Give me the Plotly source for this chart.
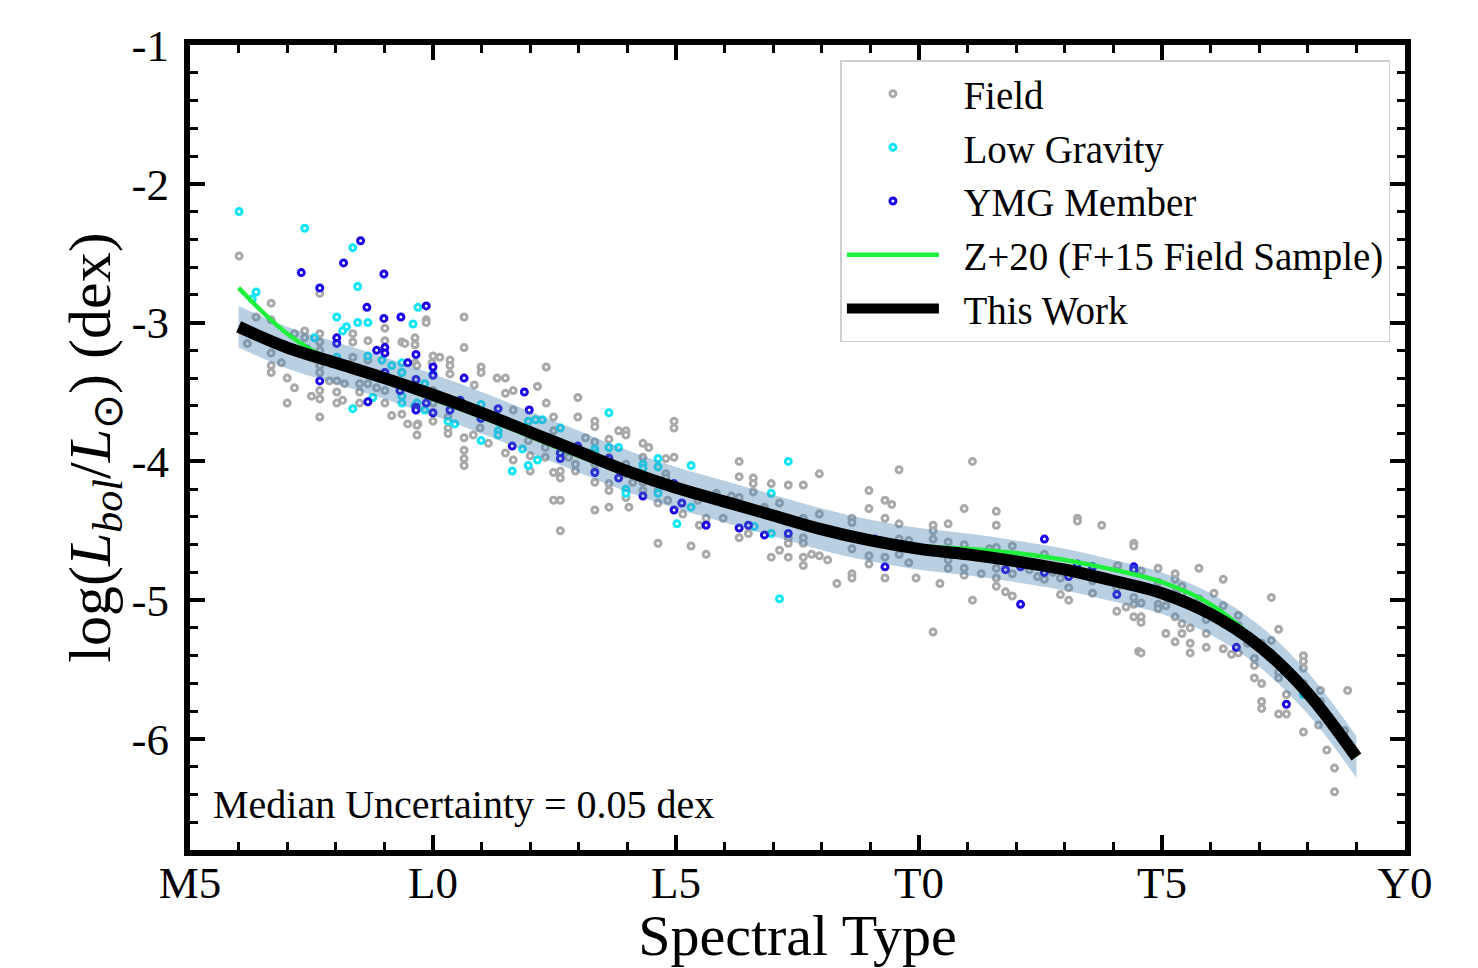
"""
Bolometric luminosity vs spectral type for ultracool dwarfs, with the polynomial fits
"""

import plotly.graph_objects as go


# spectral type is numeric: M5 = 5, L0 = 10, L5 = 15, T0 = 20, T5 = 25, Y0 = 30
spt_ticks = [5, 10, 15, 20, 25, 30]
spt_labels = ['M5', 'L0', 'L5', 'T0', 'T5', 'Y0']
lbol_ticks = [-1, -2, -3, -4, -5, -6]
lbol_labels = ['-1', '-2', '-3', '-4', '-5', '-6']

# field objects
field_spt = [
    6.01, 6.67, 6.36, 6.67, 6.18, 6.67, 6.67, 6.67, 6.88, 7.00,
    7.15, 7.00, 7.15, 7.36, 7.36, 7.67, 7.67, 7.67, 7.67, 7.67,
    7.67, 7.67, 7.67, 7.67, 7.50, 7.87, 8.02, 8.02, 8.02, 8.14,
    8.18, 8.35, 8.35, 8.35, 8.49, 8.49, 8.49, 8.66, 8.66, 8.66,
    8.84, 9.01, 9.01, 9.01, 9.01, 9.01, 9.15, 9.36, 9.42, 9.63,
    9.63, 9.63, 9.86, 10.0, 10.14, 9.69, 9.48, 10.0, 10.0, 10.0,
    9.36, 9.67, 9.36, 9.67, 9.67, 9.98, 10.35, 10.35, 10.35, 10.64,
    10.99, 10.99, 10.85, 11.32, 11.49, 11.49, 11.65, 12.15, 12.33, 12.33,
    12.48, 10.64, 10.64, 10.64, 10.64, 10.83, 11.49, 11.65, 12.0, 12.0,
    12.48, 12.62, 11.14, 11.65, 11.96, 10.31, 10.31, 10.31, 10.97, 10.97,
    11.32, 11.96, 12.31, 12.31, 12.48, 10.64, 9.86, 12.98, 12.98, 13.33,
    13.33, 13.62, 13.97, 13.97, 13.33, 13.20, 13.62, 13.33, 13.33, 13.33,
    13.62, 13.62, 12.93, 12.93, 12.79, 13.14, 13.97, 13.97, 14.11, 13.97,
    13.97, 14.32, 14.44, 14.32, 14.32, 14.32, 14.52, 14.63, 14.79, 14.79,
    14.96, 14.96, 14.96, 14.83, 13.62, 13.33, 14.03, 12.48, 12.62, 14.63,
    12.62, 13.82, 15.31, 12.62, 14.79, 14.79, 15.45, 15.62, 15.48, 15.83,
    15.14, 16.30, 16.30, 17.95, 16.59, 16.59, 16.59, 16.96, 17.31, 17.62,
    18.97, 18.97, 19.30, 19.44, 19.30, 15.62, 15.81, 15.97, 16.14, 16.30,
    15.97, 16.30, 16.61, 16.82, 16.82, 17.13, 17.31, 17.62, 17.62, 17.95,
    17.95, 17.31, 17.31, 17.62, 17.62, 17.62, 17.62, 17.13, 16.96, 17.31,
    17.79, 17.95, 18.12, 18.31, 18.62, 18.62, 18.62, 18.62, 18.62, 18.97,
    18.97, 19.30, 16.30, 16.49, 14.63, 14.32, 19.59, 21.10, 19.59, 20.93,
    21.59, 21.59, 23.26, 23.26, 23.76, 20.29, 20.29, 20.29, 20.60, 19.59,
    19.79, 19.59, 19.30, 19.79, 20.60, 20.93, 21.45, 21.59, 21.92, 20.60,
    20.60, 20.93, 20.93, 21.28, 21.59, 21.59, 21.59, 21.92, 22.27, 22.44,
    22.58, 22.75, 22.58, 22.91, 23.08, 23.57, 23.57, 24.07, 24.07, 24.42,
    24.42, 24.42, 24.42, 24.07, 24.26, 22.91, 23.08, 21.78, 21.92, 21.10,
    20.43, 19.94, 20.29, 24.52, 24.57, 24.92, 25.27, 25.27, 25.76, 26.26,
    25.41, 24.92, 24.09, 24.42, 24.57, 24.57, 24.57, 24.57, 24.92, 24.92,
    25.08, 25.27, 25.41, 25.27, 25.41, 25.58, 25.41, 25.08, 25.27, 25.58,
    25.58, 25.76, 25.76, 25.91, 26.07, 26.26, 26.26, 25.91, 25.91, 26.26,
    26.43, 26.57, 26.57, 26.57, 26.76, 26.90, 27.05, 26.90, 26.90, 26.90,
    27.05, 27.25, 27.25, 27.40, 27.25, 27.40, 27.40, 27.05, 27.05, 27.40,
    27.56, 27.56, 27.75, 27.91, 27.91, 27.91, 27.91, 27.91, 28.26, 28.26,
    28.22, 28.39, 28.55, 28.55, 28.76, 27.40, 28.82,
]
field_lbol = [
    -2.52, -2.86, -2.96, -2.98, -3.15, -3.22, -3.31, -3.36, -3.29, -3.40,
    -3.47, -3.58, -3.08, -3.06, -3.11, -3.08, -3.14, -3.20, -2.79, -3.31,
    -3.36, -3.49, -3.55, -3.68, -3.53, -3.42, -3.42, -3.50, -3.58, -3.56,
    -3.44, -3.08, -3.14, -3.25, -3.44, -3.50, -3.58, -3.13, -3.27, -3.44,
    -3.47, -3.04, -3.13, -3.40, -3.49, -3.58, -3.67, -3.14, -3.15, -3.11,
    -3.16, -3.29, -2.98, -3.24, -3.25, -3.73, -3.73, -3.49, -3.58, -3.71,
    -3.36, -3.31, -3.66, -3.74, -3.81, -3.29, -3.27, -3.31, -3.37, -3.18,
    -3.32, -3.36, -3.45, -3.40, -3.40, -3.51, -3.49, -3.46, -3.32, -3.58,
    -3.68, -3.83, -3.92, -3.98, -4.03, -3.81, -3.94, -3.99, -4.07, -3.96,
    -4.08, -4.12, -3.87, -3.63, -3.76, -3.68, -3.76, -3.80, -3.76, -3.69,
    -3.68, -3.85, -3.90, -3.97, -3.78, -2.96, -3.00, -3.54, -3.68, -3.71,
    -3.75, -3.84, -3.78, -3.81, -3.86, -3.94, -3.97, -4.02, -4.07, -4.15,
    -4.16, -4.21, -4.02, -4.07, -3.97, -3.83, -4.02, -4.09, -4.15, -4.21,
    -4.26, -3.87, -3.90, -3.97, -4.15, -4.09, -4.15, -4.21, -4.09, -4.16,
    -3.71, -3.76, -3.97, -4.28, -4.33, -4.35, -4.33, -4.28, -4.50, -4.59,
    -4.07, -3.78, -4.61, -4.28, -3.98, -4.12, -4.28, -4.41, -4.46, -4.23,
    -4.38, -4.00, -4.11, -4.09, -4.12, -4.16, -4.22, -4.16, -4.17, -4.17,
    -4.21, -4.34, -4.28, -4.31, -4.41, -4.67, -4.24, -4.28, -4.25, -4.26,
    -4.41, -4.33, -4.36, -4.33, -4.38, -4.30, -4.41, -4.41, -4.45, -4.38,
    -4.48, -4.55, -4.59, -4.55, -4.59, -4.69, -4.75, -4.64, -4.69, -4.69,
    -4.67, -4.68, -4.71, -4.88, -4.41, -4.44, -4.63, -4.81, -4.84, -4.68,
    -4.74, -4.84, -4.55, -4.52, -4.30, -4.21, -4.06, -4.00, -4.45, -4.34,
    -4.36, -4.46, -4.41, -4.43, -4.46, -4.46, -4.50, -4.56, -4.45, -4.56,
    -4.57, -4.67, -4.69, -4.73, -4.58, -4.60, -4.63, -4.62, -4.61, -4.71,
    -4.77, -4.77, -4.82, -4.81, -4.77, -4.84, -4.90, -4.81, -4.78, -4.83,
    -4.85, -4.80, -4.67, -4.84, -4.91, -4.86, -4.95, -4.77, -4.91, -4.59,
    -4.61, -4.98, -5.12, -5.08, -5.05, -4.96, -5.00, -4.94, -4.97, -5.00,
    -4.88, -4.84, -5.23, -5.37, -4.79, -4.77, -4.81, -4.85, -4.77, -4.85,
    -4.90, -4.87, -4.75, -5.03, -5.12, -5.16, -5.02, -5.38, -5.03, -5.06,
    -5.04, -4.95, -4.95, -5.12, -5.17, -5.20, -5.24, -5.24, -5.30, -5.31,
    -5.38, -4.99, -5.05, -5.14, -4.95, -5.04, -5.17, -5.24, -5.34, -5.35,
    -5.39, -5.11, -5.18, -5.38, -5.31, -5.31, -5.31, -5.42, -5.47, -5.56,
    -5.60, -5.29, -5.38, -5.44, -4.98, -5.21, -5.52, -5.73, -5.78, -5.82,
    -5.82, -5.68, -5.56, -5.40, -5.44, -5.49, -5.60, -5.95, -5.65, -5.73,
    -5.90, -6.08, -6.21, -6.38, -5.94, -5.56, -5.65,
]

# low gravity objects
lowg_spt = [
    6.01, 7.36, 8.35, 8.45, 6.36, 6.28, 8.02, 8.22, 8.14, 8.45,
    8.66, 7.56, 8.02, 8.66, 8.95, 9.15, 9.36, 9.36, 9.69, 9.59,
    8.35, 8.76, 9.36, 9.36, 9.63, 9.83, 10.0, 9.83, 9.67, 10.31,
    10.45, 10.99, 10.99, 11.34, 11.34, 11.63, 11.84, 11.96, 12.11, 12.25,
    12.62, 11.96, 12.15, 13.62, 13.62, 13.82, 13.33, 13.33, 13.97, 13.97,
    14.32, 14.32, 14.63, 14.63, 14.63, 15.02, 15.31, 15.31, 17.31, 16.96,
    16.61, 16.96, 17.13, 27.91,
]
lowg_lbol = [
    -2.20, -2.32, -2.46, -2.74, -2.78, -2.83, -2.96, -3.03, -3.06, -3.00,
    -3.00, -3.11, -3.25, -3.24, -3.27, -3.31, -3.29, -3.36, -2.89, -3.01,
    -3.62, -3.54, -3.53, -3.58, -3.60, -3.44, -3.37, -3.63, -3.58, -3.71,
    -3.73, -3.59, -3.85, -3.78, -3.81, -4.07, -3.91, -3.71, -3.70, -3.70,
    -3.76, -4.03, -3.99, -3.65, -3.90, -3.90, -3.91, -3.94, -4.20, -4.23,
    -4.02, -4.05, -3.98, -4.04, -4.23, -4.45, -4.03, -4.33, -4.00, -4.23,
    -4.47, -4.52, -4.99, -5.68,
]

# young moving group members
ymg_spt = [
    8.51, 8.16, 7.29, 8.99, 7.67, 8.64, 8.99, 9.34, 9.86, 8.02,
    8.02, 9.01, 9.01, 8.84, 9.48, 9.65, 10.0, 10.0, 9.65, 9.01,
    7.67, 7.40, 8.66, 9.65, 9.65, 9.86, 10.0, 9.32, 10.64, 10.35,
    10.56, 10.99, 11.34, 11.88, 11.98, 11.63, 12.62, 12.62, 12.98, 13.62,
    13.33, 13.82, 14.32, 14.96, 15.12, 14.96, 15.31, 15.62, 15.62, 16.30,
    16.49, 16.82, 17.31, 19.09, 19.30, 22.58, 21.78, 22.09, 22.58, 23.08,
    23.26, 23.57, 24.07, 22.09, 24.42, 24.42, 26.53, 27.56,
]
ymg_lbol = [
    -2.41, -2.57, -2.64, -2.65, -2.75, -2.89, -2.97, -2.96, -2.88, -3.11,
    -3.15, -3.18, -3.22, -3.20, -3.29, -3.23, -3.32, -3.38, -3.41, -3.36,
    -3.42, -3.19, -3.57, -3.61, -3.63, -3.58, -3.65, -3.49, -3.40, -3.63,
    -3.56, -3.69, -3.62, -3.50, -3.63, -3.89, -3.94, -3.98, -3.89, -3.98,
    -4.08, -4.12, -4.25, -4.16, -4.30, -4.35, -4.22, -4.26, -4.46, -4.48,
    -4.46, -4.53, -4.52, -4.56, -4.76, -4.56, -4.78, -4.76, -4.80, -4.83,
    -4.74, -4.76, -4.96, -5.03, -4.76, -4.78, -5.34, -5.75,
]

# relations, sampled at each subtype from M6 to T9
fit_spt = [6, 7, 8, 9, 10, 11, 12, 13, 14, 15, 16, 17,
           18, 19, 20, 21, 22, 23, 24, 25, 26, 27, 28, 29]
this_work = [-3.03, -3.18, -3.29, -3.40, -3.52, -3.65, -3.79, -3.93, -4.07, -4.19, -4.29, -4.39,
             -4.49, -4.57, -4.63, -4.67, -4.72, -4.78, -4.86, -4.95, -5.10, -5.33, -5.67, -6.13]
z20_field = [-2.75, -3.08, -3.29, -3.42, -3.55, -3.68, -3.82, -3.96, -4.09, -4.21, -4.31, -4.41,
             -4.50, -4.57, -4.61, -4.63, -4.66, -4.71, -4.78, -4.87, -5.03, -5.31, -5.67, -6.13]
fit_rms = 0.15

assert len(field_spt) == len(field_lbol)
assert len(lowg_spt) == len(lowg_lbol)
assert len(ymg_spt) == len(ymg_lbol)

FONT = 'Liberation Serif'
PAD = '\u2002'  # en space between legend symbol and label


def points(x, y, color, name):
    return go.Scatter(x=x, y=y, mode='markers', name=PAD + name,
                      marker=dict(size=6, color='white', line=dict(color=color, width=3)))


fig = go.Figure()
fig.add_trace(points(field_spt, field_lbol, '#a9a9a9', 'Field'))
fig.add_trace(points(lowg_spt, lowg_lbol, '#12e6f6', 'Low Gravity'))
fig.add_trace(points(ymg_spt, ymg_lbol, '#1a00e6', 'YMG Member'))

# scatter band around this work's relation
fig.add_trace(go.Scatter(x=fit_spt, y=[v - fit_rms for v in this_work], mode='lines',
                         line=dict(width=0, shape='spline'), showlegend=False, hoverinfo='skip'))
fig.add_trace(go.Scatter(x=fit_spt, y=[v + fit_rms for v in this_work], mode='lines',
                         line=dict(width=0, shape='spline'), fill='tonexty',
                         fillcolor='rgba(70,130,180,0.38)', showlegend=False, hoverinfo='skip'))

fig.add_trace(go.Scatter(x=fit_spt, y=z20_field, mode='lines', name=PAD + 'Z+20 (F+15 Field Sample)',
                         line=dict(color='#1ef03c', width=4.5, shape='spline')))
fig.add_trace(go.Scatter(x=fit_spt, y=this_work, mode='lines', name=PAD + 'This Work',
                         line=dict(color='black', width=12, shape='spline')))

axis_style = dict(showline=True, linewidth=6, linecolor='black', mirror='allticks',
                  ticks='inside', ticklen=15, tickwidth=4, tickcolor='black',
                  showgrid=False, zeroline=False, automargin=False,
                  tickfont=dict(family=FONT, size=45, color='black'))

fig.update_xaxes(range=[5, 30], tickvals=spt_ticks, ticktext=spt_labels,
                 minor=dict(ticks='inside', ticklen=8, tickwidth=3, tickcolor='black', dtick=1, tick0=5),
                 ticklabelstandoff=-12,
                 title=dict(text='Spectral Type', font=dict(family=FONT, size=58, color='black'), standoff=3),
                 **axis_style)
fig.update_yaxes(range=[-6.8, -1], tickvals=lbol_ticks, ticktext=lbol_labels,
                 minor=dict(ticks='inside', ticklen=8, tickwidth=3, tickcolor='black', dtick=0.2, tick0=-1),
                 ticklabelstandoff=6,
                 title=dict(text='log(<i>L</i><sub><i>bol</i></sub>/<i>L</i><sub>\u2299</sub>) (dex)',
                            font=dict(family=FONT, size=60, color='black'), standoff=0),
                 **axis_style)

fig.add_annotation(text='Median Uncertainty = 0.05 dex', xref='paper', yref='paper',
                   x=0.017, y=0.056, xanchor='left', yanchor='middle', showarrow=False,
                   font=dict(family=FONT, size=40, color='black'))

fig.update_layout(width=1478, height=968, template='simple_white',
                  plot_bgcolor='white', paper_bgcolor='white',
                  margin=dict(l=190, r=73, t=45, b=118, autoexpand=False),
                  font=dict(family=FONT, color='black'),
                  legend=dict(x=0.988, y=0.981, xanchor='right', yanchor='top', traceorder='normal',
                              bgcolor='rgba(255,255,255,0.85)', bordercolor='#cfcfcf', borderwidth=1.5,
                              font=dict(family=FONT, size=39, color='black'),
                              itemwidth=92, tracegroupgap=0))

# drop the default page margin so the figure sits at the window's corner
fig.write_html('out.html', config={'displayModeBar': False},
               post_script="document.body.style.margin='0';")
